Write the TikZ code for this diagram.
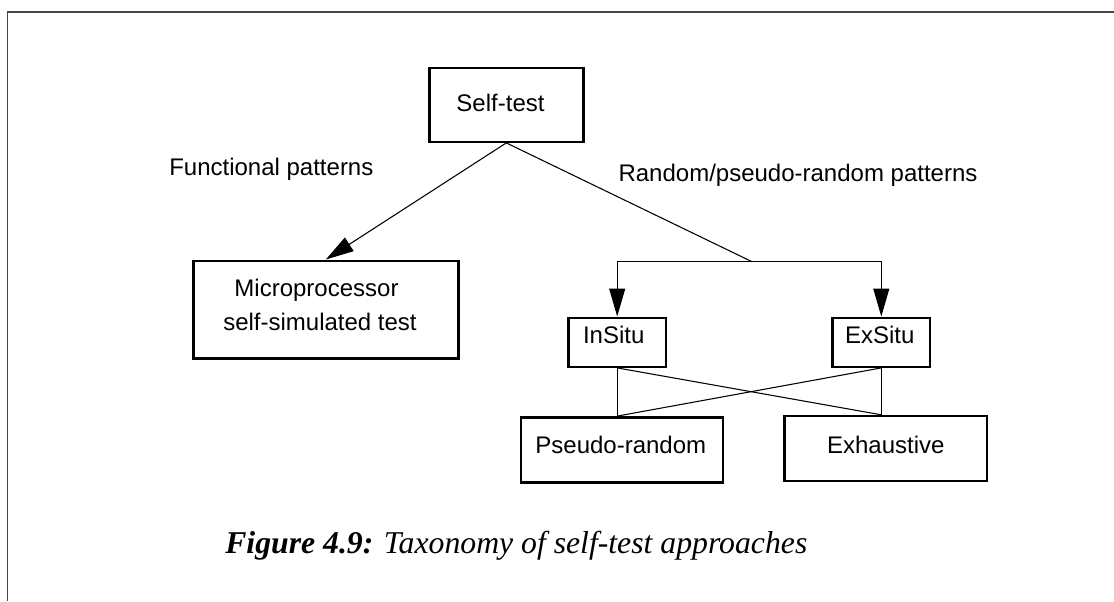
\documentclass[tikz,border=0pt]{standalone}
\usepackage{fontspec}
\setmainfont{Liberation Sans}
\newfontfamily\capfont{Liberation Serif}
\usetikzlibrary{arrows.meta}
\begin{document}
\begin{tikzpicture}[x=0.75pt,y=-0.75pt,
  box/.style={draw=black, line width=1.8pt, inner sep=0pt},
  lbl/.style={font=\fontsize{18}{22}\selectfont, inner sep=0pt, anchor=base},
  edgelbl/.style={lbl, anchor=base west},
  conn/.style={draw=black, line width=0.8pt},
  arr/.style={conn, -{Triangle[length=21pt,width=12pt]}},
  frameline/.style={draw=black!72, line width=1.2pt}]
\useasboundingbox (0,0) rectangle (1114,601);
% frame
\coordinate (fbl) at (7.3,601);
\coordinate (ftl) at (7.3,11.7);
\coordinate (ftr) at (1114,11.7);
\draw[frameline] (fbl) -- (ftl) -- (ftr);
% boxes
\node[box, minimum width=115.5pt, minimum height=55.5pt] (selftest) at (506.3,104.7) {};
\node[box, minimum width=198.75pt, minimum height=73.2pt] (micro) at (325.8,309.5) {};
\node[box, minimum width=73.3pt, minimum height=36.75pt] (insitu) at (617.2,342.2) {};
\node[box, minimum width=73pt, minimum height=36.75pt] (exsitu) at (881.3,342.2) {};
\node[box, minimum width=151.5pt, minimum height=48.75pt] (pseudo) at (621.7,449.8) {};
\node[box, minimum width=151.8pt, minimum height=48.75pt] (exhaustive) at (885.5,448.5) {};
% texts
\node[lbl] (selftest-t) at (500.5,111) {Self-test};
\node[lbl] (micro-t1) at (316.5,296.7) {Microprocessor};
\node[lbl] (micro-t2) at (320,330.7) {self-simulated test};
\node[lbl] (insitu-t) at (613.7,343.3) {InSitu};
\node[lbl] (exsitu-t) at (879.7,343.3) {ExSitu};
\node[lbl] (pseudo-t) at (620.8,453.3) {Pseudo-random};
\node[lbl] (exhaustive-t) at (885.8,453.3) {Exhaustive};
\node[edgelbl] (func-l) at (169,175) {Functional patterns};
\node[edgelbl] (rand-l) at (618.3,181) {Random/pseudo-random patterns};
% connectors
\coordinate (split) at (752,261.7);
\draw[arr] (selftest.south) -- (micro.north);
\draw[conn] (selftest.south) -- (split);
\draw[arr] (split) -| (insitu.north);
\draw[arr] (split) -| (exsitu.north);
\coordinate (pa) at (insitu.south |- pseudo.north);
\coordinate (pb) at (exsitu.south |- exhaustive.north);
\draw[conn] (insitu.south) -- (pa);
\draw[conn] (exsitu.south) -- (pb);
\draw[conn] (insitu.south) -- (pb);
\draw[conn] (exsitu.south) -- (pa);
% caption
\node[inner sep=0pt, anchor=base west, font=\capfont\fontsize{23.8}{28}\selectfont] (caption) at (225,553.3)
  {\textbf{\textit{Figure 4.9:}} \textit{Taxonomy of self-test approaches}};
\end{tikzpicture}
\end{document}
